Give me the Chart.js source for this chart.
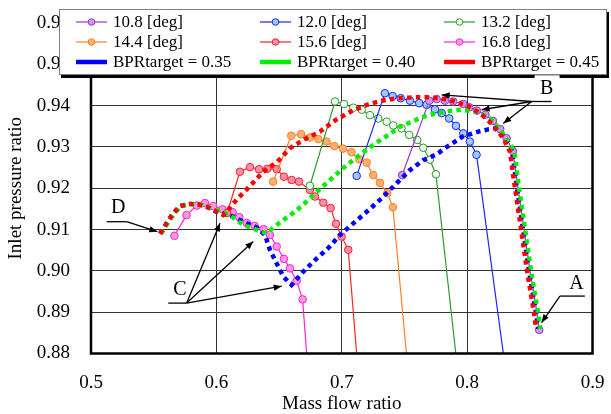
<!DOCTYPE html>
<html>
<head>
<meta charset="utf-8">
<script src="https://cdn.jsdelivr.net/npm/chart.js@4/dist/chart.umd.min.js"></script>
<style>
  html, body { margin: 0; padding: 0; background: #fff; }
  #wrap { position: relative; width: 611px; height: 414px; }
</style>
</head>
<body>
<div id="wrap"><canvas id="chart"></canvas></div>
<script>
// ---- data ----
const seriesLabels = ['10.8 [deg]', '12.0 [deg]', '13.2 [deg]', '14.4 [deg]', '15.6 [deg]', '16.8 [deg]',
                      'BPRtarget = 0.35', 'BPRtarget = 0.40', 'BPRtarget = 0.45'];

const flow108  = [0.7482, 0.7698, 0.7757, 0.7823, 0.7889, 0.7969, 0.8017, 0.8078, 0.8146, 0.8206, 0.8264, 0.8315, 0.8365, 0.8408, 0.8455, 0.8501, 0.8554, 0.8575];
const ratio108 = [0.9232, 0.9412, 0.9416, 0.9412, 0.9410, 0.9404, 0.9396, 0.9388, 0.9378, 0.9363, 0.9343, 0.9321, 0.9290, 0.9196, 0.9099, 0.9002, 0.8905, 0.8857];

const flow120  = [0.7119, 0.7344, 0.7406, 0.7470, 0.7544, 0.7618, 0.7677, 0.7743, 0.7797, 0.7857, 0.7911, 0.7969, 0.8022, 0.8075, 0.8311];
const ratio120 = [0.9230, 0.9430, 0.9423, 0.9418, 0.9412, 0.9406, 0.9402, 0.9391, 0.9382, 0.9369, 0.9351, 0.9333, 0.9313, 0.9281, 0.8750];

const flow132  = [0.6746, 0.6946, 0.7018, 0.7092, 0.7159, 0.7225, 0.7291, 0.7358, 0.7411, 0.7477, 0.7538, 0.7602, 0.7650, 0.7703, 0.7751, 0.7928];
const ratio132 = [0.9206, 0.9410, 0.9404, 0.9395, 0.9390, 0.9377, 0.9369, 0.9361, 0.9352, 0.9345, 0.9329, 0.9317, 0.9298, 0.9269, 0.9234, 0.8750];

const flow144  = [0.6453, 0.6597, 0.6676, 0.6746, 0.6813, 0.6879, 0.6940, 0.7010, 0.7078, 0.7140, 0.7198, 0.7251, 0.7305, 0.7363, 0.7408, 0.7531];
const ratio144 = [0.9216, 0.9327, 0.9331, 0.9323, 0.9319, 0.9313, 0.9302, 0.9296, 0.9287, 0.9270, 0.9262, 0.9232, 0.9213, 0.9188, 0.9154, 0.8750];

const flow156  = [0.6085, 0.6188, 0.6268, 0.6340, 0.6406, 0.6481, 0.6539, 0.6600, 0.6659, 0.6746, 0.6786, 0.6853, 0.6911, 0.6954, 0.6999, 0.7052, 0.7132];
const ratio156 = [0.9140, 0.9240, 0.9251, 0.9246, 0.9247, 0.9246, 0.9228, 0.9220, 0.9216, 0.9196, 0.9180, 0.9165, 0.9152, 0.9114, 0.9083, 0.9051, 0.8750];

const flow168  = [0.5665, 0.5762, 0.5843, 0.5909, 0.5975, 0.6050, 0.6130, 0.6183, 0.6242, 0.6305, 0.6377, 0.6427, 0.6481, 0.6539, 0.6587, 0.6640, 0.6688, 0.6732];
const ratio168 = [0.9085, 0.9135, 0.9158, 0.9164, 0.9157, 0.9149, 0.9142, 0.9130, 0.9116, 0.9109, 0.9101, 0.9087, 0.9059, 0.9029, 0.9006, 0.8976, 0.8931, 0.8750];

const flowB35  = [0.5550, 0.5603, 0.5656, 0.5710, 0.5790, 0.5856, 0.5923, 0.6002, 0.6108, 0.6215, 0.6321, 0.6388, 0.6427, 0.6481, 0.6534, 0.6600, 0.6693, 0.6786, 0.6892, 0.6986, 0.7092, 0.7199, 0.7305, 0.7451, 0.7544, 0.7650, 0.7757, 0.7823, 0.7895, 0.7964, 0.8089, 0.8160, 0.8222, 0.8302, 0.8355, 0.8400, 0.8447, 0.8493, 0.8546, 0.8567];
const ratioB35 = [0.9090, 0.9115, 0.9139, 0.9157, 0.9162, 0.9161, 0.9155, 0.9143, 0.9135, 0.9119, 0.9105, 0.9087, 0.9051, 0.9018, 0.8986, 0.8966, 0.8998, 0.9026, 0.9055, 0.9087, 0.9115, 0.9143, 0.9172, 0.9216, 0.9244, 0.9268, 0.9282, 0.9297, 0.9311, 0.9325, 0.9337, 0.9342, 0.9345, 0.9325, 0.9297, 0.9196, 0.9099, 0.9002, 0.8905, 0.8860];

const flowB40  = [0.5560, 0.5610, 0.5663, 0.5717, 0.5797, 0.5863, 0.5930, 0.6042, 0.6108, 0.6215, 0.6290, 0.6342, 0.6401, 0.6449, 0.6507, 0.6565, 0.6627, 0.6720, 0.6773, 0.6906, 0.7039, 0.7145, 0.7251, 0.7371, 0.7464, 0.7557, 0.7650, 0.7757, 0.7863, 0.7956, 0.8076, 0.8182, 0.8248, 0.8328, 0.8376, 0.8416, 0.8463, 0.8509, 0.8562, 0.8583];
const ratioB40 = [0.9090, 0.9115, 0.9139, 0.9157, 0.9162, 0.9161, 0.9155, 0.9143, 0.9135, 0.9111, 0.9103, 0.9097, 0.9091, 0.9103, 0.9117, 0.9130, 0.9143, 0.9168, 0.9184, 0.9220, 0.9256, 0.9281, 0.9305, 0.9329, 0.9349, 0.9361, 0.9373, 0.9382, 0.9387, 0.9390, 0.9385, 0.9370, 0.9347, 0.9313, 0.9289, 0.9196, 0.9099, 0.9002, 0.8905, 0.8860];

const flowB45  = [0.5550, 0.5603, 0.5656, 0.5710, 0.5790, 0.5856, 0.5923, 0.6002, 0.6055, 0.6100, 0.6160, 0.6228, 0.6282, 0.6374, 0.6486, 0.6587, 0.6700, 0.6826, 0.6950, 0.7080, 0.7200, 0.7320, 0.7450, 0.7570, 0.7700, 0.7800, 0.7900, 0.8000, 0.8102, 0.8208, 0.8288, 0.8341, 0.8384, 0.8431, 0.8477, 0.8530, 0.8551];
const ratioB45 = [0.9090, 0.9115, 0.9139, 0.9157, 0.9162, 0.9161, 0.9155, 0.9143, 0.9135, 0.9150, 0.9172, 0.9193, 0.9210, 0.9240, 0.9264, 0.9297, 0.9318, 0.9337, 0.9365, 0.9387, 0.9402, 0.9412, 0.9418, 0.9420, 0.9420, 0.9417, 0.9410, 0.9400, 0.9382, 0.9353, 0.9321, 0.9289, 0.9196, 0.9099, 0.9002, 0.8905, 0.8860];

const xTicks = [0.5, 0.6, 0.7, 0.8, 0.9];
const yTicks = [0.88, 0.89, 0.90, 0.91, 0.92, 0.93, 0.94, 0.95, 0.96];

// callouts A-D, in data units
const callouts = [
  { text: 'A', at: [0.8873, 0.8970], path: [[0.8939, 0.8939], [0.8740, 0.8939]], tips: [[0.8594, 0.8875]] },
  { text: 'B', at: [0.8634, 0.9442], path: [[0.8673, 0.9410], [0.8514, 0.9410]], tips: [[0.7797, 0.9426], [0.8116, 0.9390], [0.8288, 0.9357]] },
  { text: 'C', at: [0.5710, 0.8954], path: [[0.5616, 0.8922], [0.5763, 0.8922]], tips: [[0.6029, 0.9115], [0.6294, 0.9071], [0.6521, 0.8963]] },
  { text: 'D', at: [0.5218, 0.9152], path: [[0.5125, 0.9119], [0.5284, 0.9119]], tips: [[0.5529, 0.9095]] }
];

const serif = '"Liberation Serif", "Times New Roman", serif';
const toPts = (xs, ys) => xs.map((x, i) => ({ x: x, y: ys[i] }));

function angleSet(i, xs, ys, line, fill) {
  return {
    label: seriesLabels[i], data: toPts(xs, ys), order: 3,
    borderColor: line, borderWidth: 1.2, backgroundColor: fill,
    pointBackgroundColor: fill, pointBorderColor: line, pointBorderWidth: 1,
    pointRadius: 3.8, tension: 0
  };
}
function bprSet(i, xs, ys, color, order) {
  return {
    label: seriesLabels[i], data: toPts(xs, ys), order: order,
    borderColor: color, backgroundColor: color, borderWidth: 4.5,
    borderDash: [4.5, 4.2], borderCapStyle: 'butt', pointRadius: 0, tension: 0
  };
}

const purple = angleSet(0, flow108, ratio108, '#9933cc', '#cc99ee');
// the steep part of 10.8 deg shows no markers
purple.pointRadius = c => (c.dataIndex > 12 && c.dataIndex < ratio108.length - 1 ? 0 : 3.8);

const datasets = [
  purple,
  angleSet(1, flow120, ratio120, '#2222ff', '#99ccff'),
  angleSet(2, flow132, ratio132, '#339933', '#eefaee'),
  angleSet(3, flow144, ratio144, '#ff7f27', '#ffb070'),
  angleSet(4, flow156, ratio156, '#ff2222', '#f58cb4'),
  angleSet(5, flow168, ratio168, '#ff22dd', '#ff99d6'),
  bprSet(6, flowB35, ratioB35, '#0000ff', 2),
  bprSet(7, flowB40, ratioB40, '#00ee00', 1),
  bprSet(8, flowB45, ratioB45, '#ff0000', 0)
];

function arrow(ctx, x0, y0, x1, y1) {
  ctx.beginPath(); ctx.moveTo(x0, y0); ctx.lineTo(x1, y1); ctx.stroke();
  const a = Math.atan2(y1 - y0, x1 - x0), L = 8, W = 3.2;
  ctx.beginPath();
  ctx.moveTo(x1, y1);
  ctx.lineTo(x1 - L * Math.cos(a) + W * Math.sin(a), y1 - L * Math.sin(a) - W * Math.cos(a));
  ctx.lineTo(x1 - L * Math.cos(a) - W * Math.sin(a), y1 - L * Math.sin(a) + W * Math.cos(a));
  ctx.closePath(); ctx.fill();
}

const framePlugin = {
  id: 'frame',
  afterDatasetsDraw(chart) {
    const { ctx, chartArea: a } = chart;
    ctx.save();
    ctx.strokeStyle = '#000'; ctx.lineWidth = 2.5;
    ctx.strokeRect(a.left, a.top, a.right - a.left, a.bottom - a.top);
    ctx.restore();
  }
};

const overlayPlugin = {
  id: 'overlay',
  afterDraw(chart) {
    const { ctx, scales: { x, y } } = chart;
    const px = p => [x.getPixelForValue(p[0]), y.getPixelForValue(p[1])];
    ctx.save();

    // legend shadow, then B label's white box, then the legend itself
    ctx.fillStyle = '#000';
    ctx.fillRect(61, 12, 548, 66);
    const bAt = px(callouts[1].at);
    ctx.fillStyle = '#fff';
    ctx.fillRect(bAt[0] - 12, bAt[1] - 13, 25, 24);
    ctx.fillRect(59, 9, 548, 66);
    ctx.strokeStyle = '#808080'; ctx.lineWidth = 1;
    ctx.strokeRect(59.5, 9.5, 547, 65);

    const colX = [76, 260, 444], rowY = [22, 42, 62];
    ctx.font = '17px ' + serif; ctx.textBaseline = 'middle'; ctx.textAlign = 'left';
    chart.data.datasets.forEach((ds, i) => {
      const cx = colX[i % 3], cy = rowY[Math.floor(i / 3)];
      ctx.strokeStyle = ds.borderColor;
      ctx.lineWidth = i < 6 ? 1.2 : 4.5;
      ctx.beginPath(); ctx.moveTo(cx, cy); ctx.lineTo(cx + 31, cy); ctx.stroke();
      if (i < 6) {
        ctx.fillStyle = ds.pointBackgroundColor; ctx.lineWidth = 1;
        ctx.beginPath(); ctx.arc(cx + 15.5, cy, 3.3, 0, Math.PI * 2); ctx.fill(); ctx.stroke();
      }
      ctx.fillStyle = '#000';
      ctx.fillText(ds.label, cx + 37, cy + 1);
    });

    // callouts
    ctx.strokeStyle = '#000'; ctx.fillStyle = '#000'; ctx.lineWidth = 1.3;
    ctx.font = '20px ' + serif; ctx.textAlign = 'center';
    callouts.forEach(c => {
      const pts = c.path.map(px);
      ctx.beginPath(); ctx.moveTo(pts[0][0], pts[0][1]); ctx.lineTo(pts[1][0], pts[1][1]); ctx.stroke();
      c.tips.map(px).forEach(t => arrow(ctx, pts[1][0], pts[1][1], t[0], t[1]));
      const t = px(c.at);
      ctx.fillText(c.text, t[0], t[1]);
    });
    ctx.restore();
  }
};

new Chart(document.getElementById('chart'), {
  type: 'line',
  data: { datasets: datasets },
  options: {
    animation: false,
    responsive: true,
    maintainAspectRatio: false,
    layout: { padding: { top: 23, right: 18.5, bottom: 0, left: 0 } },
    plugins: { legend: { display: false }, tooltip: { enabled: false } },
    scales: {
      x: {
        type: 'linear', min: 0.5, max: 0.9,
        afterFit: s => { s.height = 60.5; s.paddingLeft = 0; s.paddingRight = 0; },
        afterBuildTicks: s => { s.ticks = xTicks.map(v => ({ value: v })); },
        ticks: { callback: v => v.toFixed(1), color: '#000', padding: 18, font: { family: serif, size: 19 } },
        grid: { color: '#333', lineWidth: 1, drawTicks: false },
        border: { display: false },
        title: { display: true, text: 'Mass flow ratio', color: '#000', padding: { top: 0, bottom: 0 },
                 font: { family: serif, size: 19, lineHeight: 1.1 } }
      },
      y: {
        type: 'linear', min: 0.88, max: 0.96,
        afterFit: s => { s.width = 91; s.paddingTop = 0; s.paddingBottom = 0; },
        afterBuildTicks: s => { s.ticks = yTicks.map(v => ({ value: v })); },
        ticks: { callback: v => v.toFixed(2), color: '#000', padding: 21, font: { family: serif, size: 19 } },
        grid: { color: '#333', lineWidth: 1, drawTicks: false },
        border: { display: false },
        title: { display: true, text: 'Inlet pressure ratio', color: '#000', padding: { top: 6, bottom: 0 },
                 font: { family: serif, size: 19, lineHeight: 1.1 } }
      }
    }
  },
  plugins: [framePlugin, overlayPlugin]
});
</script>
</body>
</html>
